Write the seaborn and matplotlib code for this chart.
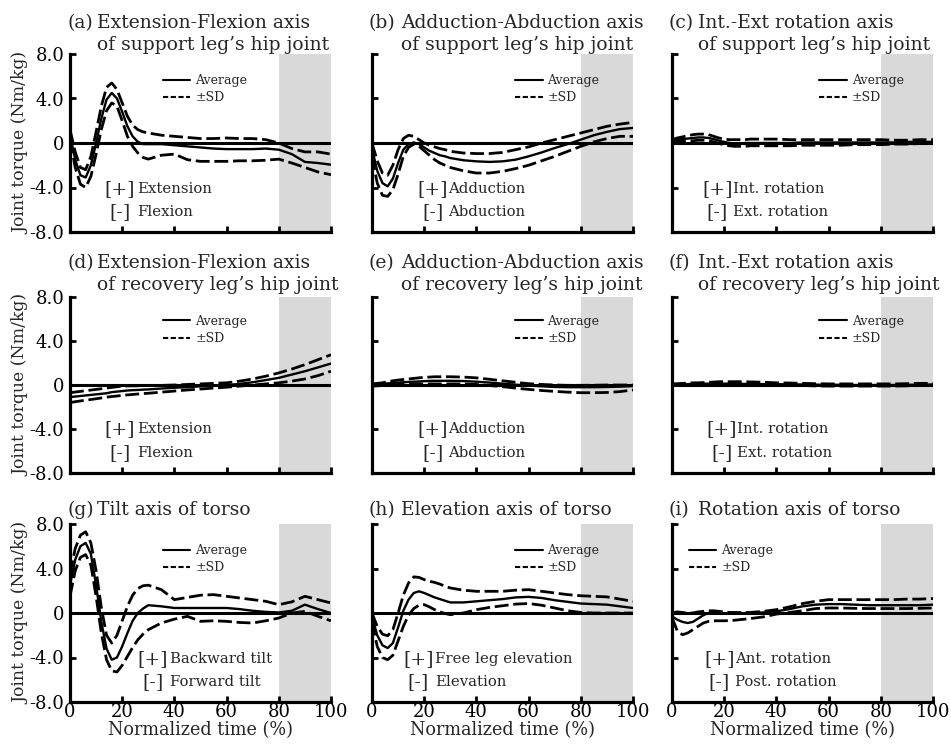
import matplotlib
matplotlib.use("Agg")
import matplotlib.pyplot as plt
from matplotlib.lines import Line2D
import seaborn as sns

# Normalized time (%)
x = [0, 2, 4, 6, 8, 10, 12, 14, 16, 18, 20, 22, 24, 26, 28, 30,
     35, 40, 45, 50, 55, 60, 65, 70, 75, 80, 85, 90, 95, 100]

# (a) support leg hip, extension-flexion
a_avg = [0.8, -1.5, -2.9, -3.1, -2.0, 0.0, 2.2, 3.9, 4.5, 4.0, 2.8, 1.5, 0.6, 0.1, -0.1, -0.1,
         -0.1, -0.2, -0.3, -0.4, -0.5, -0.55, -0.55, -0.55, -0.5, -0.6, -1.0, -1.7, -1.8, -1.95]
a_hi = [1.2, -0.8, -2.2, -2.4, -1.2, 1.0, 3.3, 5.0, 5.4, 4.8, 3.6, 2.4, 1.6, 1.2, 1.0, 0.9,
        0.7, 0.6, 0.5, 0.4, 0.4, 0.45, 0.4, 0.4, 0.3, 0.0, -0.5, -0.8, -0.8, -1.0]
a_lo = [0.3, -2.2, -3.7, -4.0, -3.0, -1.0, 1.2, 2.9, 3.6, 3.3, 2.0, 0.6, -0.3, -0.9, -1.3, -1.45,
        -1.1, -1.0, -1.5, -1.65, -1.65, -1.65, -1.6, -1.6, -1.55, -1.45, -1.8, -2.2, -2.6, -2.85]

# (b) support leg hip, adduction-abduction
b_avg = [-0.5, -2.5, -3.6, -3.9, -3.2, -1.8, -0.6, -0.1, 0.05, -0.1, -0.4, -0.7, -0.9, -1.1, -1.2, -1.35,
         -1.55, -1.65, -1.7, -1.65, -1.5, -1.2, -0.85, -0.45, -0.1, 0.3, 0.7, 1.0, 1.25, 1.35]
b_hi = [0.0, -1.6, -2.7, -2.9, -2.0, -0.6, 0.4, 0.7, 0.6, 0.3, 0.0, -0.2, -0.35, -0.5, -0.6, -0.75,
        -0.9, -0.95, -0.95, -0.85, -0.6, -0.35, 0.0, 0.3, 0.6, 0.9, 1.2, 1.5, 1.7, 1.85]
b_lo = [-1.2, -3.6, -4.7, -4.8, -4.2, -2.8, -1.2, -0.4, -0.1, -0.3, -0.7, -1.1, -1.5, -1.8, -2.0, -2.2,
        -2.5, -2.7, -2.7, -2.55, -2.3, -2.0, -1.6, -1.2, -0.75, -0.3, 0.1, 0.4, 0.6, 0.6]

# (c) support leg hip, int-ext rotation
c_avg = [0.2, 0.3, 0.35, 0.4, 0.45, 0.5, 0.5, 0.45, 0.35, 0.2, 0.1, 0.0, -0.05, -0.05, 0.0, 0.0,
         0.0, 0.0, 0.0, 0.05, 0.05, 0.05, 0.05, 0.05, 0.05, 0.05, 0.05, 0.1, 0.1, 0.1]
c_hi = [0.3, 0.45, 0.55, 0.65, 0.75, 0.8, 0.8, 0.75, 0.6, 0.45, 0.35, 0.3, 0.3, 0.3, 0.3, 0.35,
        0.35, 0.35, 0.3, 0.3, 0.3, 0.3, 0.3, 0.3, 0.3, 0.3, 0.25, 0.25, 0.3, 0.3]
c_lo = [0.1, 0.15, 0.2, 0.2, 0.2, 0.25, 0.25, 0.2, 0.1, -0.05, -0.15, -0.25, -0.3, -0.3, -0.3, -0.25,
        -0.25, -0.25, -0.25, -0.2, -0.2, -0.2, -0.2, -0.15, -0.15, -0.15, -0.1, -0.1, -0.05, -0.05]

# (d) recovery leg hip, extension-flexion
d_avg = [-1.1, -1.05, -1.0, -0.95, -0.9, -0.85, -0.8, -0.75, -0.65, -0.6, -0.55, -0.5, -0.47, -0.45, -0.42, -0.4,
         -0.32, -0.25, -0.2, -0.12, -0.05, 0.0, 0.1, 0.25, 0.45, 0.65, 0.95, 1.25, 1.6, 1.95]
d_hi = [-0.7, -0.64, -0.58, -0.52, -0.46, -0.4, -0.34, -0.28, -0.22, -0.16, -0.1, -0.09, -0.08, -0.07, -0.06, -0.05,
        -0.03, 0.0, 0.05, 0.1, 0.15, 0.2, 0.35, 0.55, 0.8, 1.1, 1.45, 1.85, 2.3, 2.75]
d_lo = [-1.6, -1.52, -1.45, -1.38, -1.32, -1.25, -1.18, -1.1, -1.05, -1.0, -0.95, -0.9, -0.86, -0.82, -0.78, -0.75,
        -0.65, -0.55, -0.45, -0.37, -0.28, -0.2, -0.1, 0.0, 0.1, 0.2, 0.35, 0.55, 0.85, 1.25]

# (e) recovery leg hip, adduction-abduction
e_avg = [0.0, 0.05, 0.1, 0.15, 0.2, 0.22, 0.25, 0.28, 0.3, 0.32, 0.35, 0.37, 0.38, 0.38, 0.38, 0.38,
         0.36, 0.3, 0.22, 0.12, 0.03, -0.05, -0.12, -0.18, -0.2, -0.2, -0.2, -0.18, -0.15, -0.1]
e_hi = [0.1, 0.15, 0.2, 0.3, 0.38, 0.45, 0.5, 0.55, 0.6, 0.65, 0.7, 0.72, 0.75, 0.75, 0.75, 0.75,
        0.72, 0.65, 0.52, 0.38, 0.25, 0.12, 0.05, 0.0, -0.03, -0.03, -0.02, 0.0, 0.0, 0.0]
e_lo = [-0.1, -0.08, -0.05, 0.0, 0.02, 0.05, 0.07, 0.08, 0.1, 0.1, 0.1, 0.1, 0.1, 0.1, 0.1, 0.1,
        0.1, 0.05, -0.05, -0.15, -0.28, -0.4, -0.5, -0.58, -0.65, -0.7, -0.7, -0.68, -0.6, -0.45]

# (f) recovery leg hip, int-ext rotation
f_avg = [0.05, 0.05, 0.05, 0.08, 0.1, 0.1, 0.12, 0.12, 0.12, 0.12, 0.12, 0.12, 0.1, 0.1, 0.1, 0.1,
         0.08, 0.08, 0.05, 0.05, 0.03, 0.02, 0.02, 0.0, 0.0, 0.0, 0.0, 0.02, 0.03, 0.05]
f_hi = [0.1, 0.12, 0.15, 0.17, 0.2, 0.2, 0.22, 0.25, 0.27, 0.3, 0.3, 0.3, 0.3, 0.3, 0.3, 0.28,
        0.25, 0.2, 0.18, 0.15, 0.12, 0.1, 0.1, 0.1, 0.1, 0.1, 0.1, 0.12, 0.15, 0.15]
f_lo = [0.0, 0.0, 0.0, 0.02, 0.02, 0.03, 0.03, 0.04, 0.05, 0.05, 0.05, 0.05, 0.04, 0.03, 0.02, 0.02,
        0.0, 0.0, -0.03, -0.05, -0.08, -0.1, -0.1, -0.1, -0.1, -0.1, -0.1, -0.08, -0.05, -0.05]

# (g) torso tilt
g_avg = [2.5, 4.8, 6.0, 6.3, 5.3, 2.5, -0.8, -3.2, -4.2, -4.0, -3.0, -1.8, -0.7, 0.0, 0.4, 0.7,
         0.6, 0.45, 0.45, 0.45, 0.45, 0.45, 0.35, 0.2, 0.1, 0.05, 0.2, 0.75, 0.35, 0.0]
g_hi = [3.5, 5.8, 7.0, 7.3, 6.3, 3.8, 0.5, -2.0, -2.7, -2.0, -0.7, 0.6, 1.6, 2.2, 2.45, 2.5,
        2.1, 1.2, 1.4, 1.6, 1.65, 1.5, 1.35, 1.2, 1.05, 0.75, 1.0, 1.5, 1.2, 0.9]
g_lo = [1.5, 3.8, 5.0, 5.25, 4.3, 1.5, -1.8, -4.2, -5.2, -5.3, -4.7, -3.9, -3.1, -2.4, -1.9, -1.5,
        -0.9, -0.55, -0.3, -0.75, -0.7, -0.75, -0.85, -0.9, -0.7, -0.45, 0.0, 0.15, -0.3, -0.7]

# (h) torso elevation
h_avg = [-0.3, -2.0, -2.9, -3.15, -2.7, -1.3, 0.2, 1.2, 1.8, 1.95, 1.8, 1.6, 1.4, 1.25, 1.1, 0.95,
         0.95, 1.05, 1.15, 1.25, 1.4, 1.45, 1.35, 1.15, 1.0, 0.85, 0.8, 0.75, 0.6, 0.45]
h_hi = [0.0, -1.2, -1.9, -2.05, -1.5, 0.0, 1.6, 2.7, 3.25, 3.2, 3.0, 2.85, 2.75, 2.6, 2.4, 2.25,
        2.05, 1.95, 1.95, 1.95, 2.05, 2.1, 1.95, 1.8, 1.65, 1.55, 1.5, 1.45, 1.25, 1.05]
h_lo = [-0.8, -3.0, -4.0, -4.2, -3.8, -2.5, -1.2, -0.2, 0.4, 0.7, 0.75, 0.55, 0.3, 0.1, -0.05, -0.15,
        0.0, 0.3, 0.5, 0.65, 0.8, 0.85, 0.7, 0.45, 0.2, 0.05, 0.0, 0.0, 0.0, 0.0]

# (i) torso rotation
i_avg = [-0.3, -0.6, -0.8, -0.9, -0.8, -0.5, -0.2, 0.0, 0.05, 0.0, -0.05, -0.05, -0.05, -0.05, 0.0, 0.0,
         0.05, 0.15, 0.35, 0.6, 0.75, 0.8, 0.8, 0.75, 0.7, 0.7, 0.7, 0.7, 0.7, 0.75]
i_hi = [0.0, 0.1, 0.05, 0.0, 0.0, 0.1, 0.15, 0.2, 0.2, 0.15, 0.1, 0.05, 0.05, 0.05, 0.05, 0.05,
        0.15, 0.3, 0.55, 0.85, 1.05, 1.2, 1.2, 1.2, 1.2, 1.2, 1.2, 1.25, 1.25, 1.3]
i_lo = [-0.4, -1.6, -1.95, -1.8, -1.5, -1.2, -0.9, -0.75, -0.7, -0.7, -0.7, -0.68, -0.65, -0.6, -0.55, -0.5,
        -0.35, -0.1, 0.05, 0.2, 0.4, 0.45, 0.45, 0.42, 0.4, 0.4, 0.4, 0.4, 0.42, 0.45]

letters = ["(a)", "(b)", "(c)", "(d)", "(e)", "(f)", "(g)", "(h)", "(i)"]
titles = [
    ["Extension-Flexion axis", "of support leg\u2019s hip joint"],
    ["Adduction-Abduction axis", "of support leg\u2019s hip joint"],
    ["Int.-Ext rotation axis", "of support leg\u2019s hip joint"],
    ["Extension-Flexion axis", "of recovery leg\u2019s hip joint"],
    ["Adduction-Abduction axis", "of recovery leg\u2019s hip joint"],
    ["Int.-Ext rotation axis", "of recovery leg\u2019s hip joint"],
    ["Tilt axis of torso"],
    ["Elevation axis of torso"],
    ["Rotation axis of torso"],
]
plus_labels = ["Extension", "Adduction", "Int. rotation",
               "Extension", "Adduction", "Int. rotation",
               "Backward tilt", "Free leg elevation", "Ant. rotation"]
minus_labels = ["Flexion", "Abduction", "Ext. rotation",
                "Flexion", "Abduction", "Ext. rotation",
                "Forward tilt", "Elevation", "Post. rotation"]
series = [(a_avg, a_hi, a_lo), (b_avg, b_hi, b_lo), (c_avg, c_hi, c_lo),
          (d_avg, d_hi, d_lo), (e_avg, e_hi, e_lo), (f_avg, f_hi, f_lo),
          (g_avg, g_hi, g_lo), (h_avg, h_hi, h_lo), (i_avg, i_hi, i_lo)]
yticks = [-8, -4, 0, 4, 8]
ytick_labels = ["-8.0", "-4.0", "0", "4.0", "8.0"]
xticks = [0, 20, 40, 60, 80, 100]

sns.set_style("ticks")
plt.rcParams["font.family"] = ["DejaVu Serif"]

W, H = 951, 745
fig = plt.figure(figsize=(W / 100, H / 100), dpi=100)

col_left = [70, 372, 672]
row_top = [54, 297, 524]
row_h = [178, 176, 178]
ax_w = 261

# layout per panel (axes fraction)
legend_x = [0.355, 0.548, 0.565, 0.355, 0.548, 0.565, 0.355, 0.548, 0.065]
legend_y = [0.888, 0.90, 0.888]
br_x = [0.19, 0.232, 0.173, 0.19, 0.232, 0.192, 0.317, 0.178, 0.181]
lab_x = [0.258, 0.292, 0.233, 0.258, 0.292, 0.248, 0.384, 0.241, 0.24]
letter_x = [-0.008, -0.015, -0.012]
body_x = [0.105, 0.112, 0.1]

dash_sd = (0, (5, 1.7))

for k in range(9):
    r, c = divmod(k, 3)
    rect = [col_left[c] / W, 1 - (row_top[r] + row_h[r]) / H, ax_w / W, row_h[r] / H]
    ax = fig.add_axes(rect)
    ax.axvspan(80, 100, color="#d9d9d9", lw=0, zorder=0)
    ax.axhline(0, color="black", lw=2.2, zorder=2)

    avg, hi, lo = series[k]
    sns.lineplot(x=x, y=hi, ax=ax, color="black", linewidth=2.0, linestyle=dash_sd, zorder=3)
    sns.lineplot(x=x, y=lo, ax=ax, color="black", linewidth=2.0, linestyle=dash_sd, zorder=3)
    sns.lineplot(x=x, y=avg, ax=ax, color="black", linewidth=1.7, zorder=4)

    ax.set_xlim(0, 100)
    ax.set_ylim(-8, 8)
    ax.set_xticks(xticks)
    ax.set_yticks(yticks)
    for s in ["top", "right"]:
        ax.spines[s].set_visible(False)
    for s in ["left", "bottom"]:
        ax.spines[s].set_linewidth(2.3)
        ax.spines[s].set_color("black")
    ax.tick_params(direction="in", length=4, width=2, colors="black", labelsize=13, pad=4)

    if c == 0:
        ax.set_yticklabels(ytick_labels)
        ax.set_ylabel("Joint torque (Nm/kg)", fontsize=12.4)
        ax.yaxis.set_label_coords(-0.157, 0.5)
    else:
        ax.set_yticklabels([])
    if r == 2:
        ax.set_xticklabels([str(v) for v in xticks])
        ax.tick_params(axis="x", pad=1)
        ax.set_xlabel("Normalized time (%)", fontsize=12.7, labelpad=0)
    else:
        ax.set_xticklabels([])

    # title lines
    lines = titles[k]
    if len(lines) == 2:
        y2 = 1 + (9 if r == 0 else 12) / row_h[r]
        y1 = y2 + 22 / row_h[r]
        ax.text(letter_x[c], y1, letters[k], transform=ax.transAxes, fontsize=13.5, va="center", ha="left")
        ax.text(body_x[c], y1, lines[0], transform=ax.transAxes, fontsize=13.5, va="center", ha="left")
        ax.text(body_x[c], y2, lines[1], transform=ax.transAxes, fontsize=13.5, va="center", ha="left")
    else:
        y1 = 1 + 14 / row_h[r]
        ax.text(letter_x[c], y1, letters[k], transform=ax.transAxes, fontsize=13.5, va="center", ha="left")
        ax.text(body_x[c], y1, lines[0], transform=ax.transAxes, fontsize=13.5, va="center", ha="left")

    # sign labels
    yp = 0.25 if r == 1 else 0.24
    ym = 0.112
    ax.text(br_x[k], yp, "[+]", transform=ax.transAxes, fontsize=13.5, va="center", ha="center")
    ax.text(br_x[k], ym, "[-]", transform=ax.transAxes, fontsize=13.5, va="center", ha="center")
    ax.text(lab_x[k], yp, plus_labels[k], transform=ax.transAxes, fontsize=10.7, va="center", ha="left")
    ax.text(lab_x[k], ym, minus_labels[k], transform=ax.transAxes, fontsize=10.7, va="center", ha="left")

    handles = [Line2D([], [], color="black", lw=1.5),
               Line2D([], [], color="black", lw=1.5, ls=(0, (2.5, 1.2)))]
    ax.legend(handles=handles, labels=["Average", "\u00b1SD"], loc="upper left",
              bbox_to_anchor=(legend_x[k], legend_y[r]), frameon=False, fontsize=9,
              handlelength=2.2, handletextpad=0.4, labelspacing=0.35,
              borderpad=0, borderaxespad=0)

fig.savefig("out.png", dpi=100)
